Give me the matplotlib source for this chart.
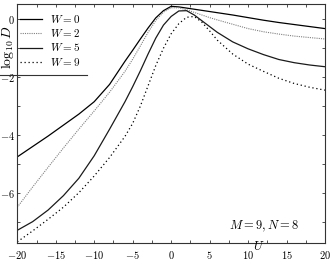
import matplotlib
matplotlib.use("Agg")
import matplotlib.pyplot as plt
from matplotlib.lines import Line2D
from matplotlib.ticker import MultipleLocator

plt.rcParams["mathtext.fontset"] = "cm"
plt.rcParams["axes.unicode_minus"] = False
plt.rcParams["axes.formatter.use_mathtext"] = True

U = [-20, -18, -16, -14, -12, -10, -8, -6, -5, -4, -3, -2, -1, 0, 1, 2, 3, 4, 5, 6, 8, 10, 12, 14, 16, 18, 20]

logd_w0 = [-4.76, -4.4, -4.04, -3.66, -3.28, -2.85, -2.25, -1.45, -1.07, -0.68, -0.3, 0.05, 0.3, 0.45, 0.43, 0.39,
           0.35, 0.31, 0.27, 0.23, 0.15, 0.06, -0.03, -0.11, -0.18, -0.25, -0.32]
logd_w2 = [-6.5, -5.8, -5.12, -4.45, -3.8, -3.17, -2.52, -1.8, -1.38, -0.92, -0.45, -0.04, 0.25, 0.4, 0.4, 0.33,
           0.24, 0.15, 0.06, -0.02, -0.17, -0.32, -0.43, -0.51, -0.58, -0.63, -0.68]
logd_w5 = [-7.3, -7.0, -6.6, -6.1, -5.5, -4.72, -3.8, -2.85, -2.33, -1.78, -1.2, -0.65, -0.2, 0.1, 0.29, 0.3,
           0.15, -0.05, -0.25, -0.45, -0.78, -1.02, -1.22, -1.39, -1.5, -1.58, -1.64]
logd_w9 = [-7.7, -7.32, -6.92, -6.5, -6.0, -5.42, -4.78, -4.05, -3.6, -3.0, -2.3, -1.6, -1.0, -0.5, -0.15, 0.07,
           0.1, -0.1, -0.4, -0.72, -1.2, -1.55, -1.8, -2.04, -2.22, -2.35, -2.45]

labels = [r"$\mathit{W{=}0}$", r"$\mathit{W{=}2}$", r"$\mathit{W{=}5}$", r"$\mathit{W{=}9}$"]

fig = plt.figure(figsize=(3.32, 2.61), dpi=100)
ax = fig.add_axes([0.0521, 0.0678, 0.9268, 0.9157])

ax.plot(U, logd_w0, color="black", lw=0.9, label=labels[0])
ax.plot(U, logd_w2, color="#808080", lw=0.8, ls=(0, (1, 1)), label=labels[1])
ax.plot(U, logd_w5, color="#1a1a1a", lw=0.9, label=labels[2])
ax.plot(U, logd_w9, color="black", lw=0.9, ls=(0, (1, 2.2)), label=labels[3])

ax.set_xlim(-20, 20)
ax.set_ylim(-7.75, 0.52)
ax.xaxis.set_major_locator(MultipleLocator(5))
ax.xaxis.set_minor_locator(MultipleLocator(2.5))
ax.yaxis.set_major_locator(MultipleLocator(2))
ax.yaxis.set_minor_locator(MultipleLocator(1))
ax.tick_params(which="both", direction="in", top=True, right=True, length=2.5, width=0.6, colors="#333333")
ax.tick_params(axis="x", labelsize=7.5, pad=4, labelcolor="black")
ax.tick_params(axis="y", labelsize=7.5, pad=1.5, labelcolor="black")
for lab in ax.get_xticklabels() + ax.get_yticklabels():
    lab.set_family("cmr10")
for sp in ax.spines.values():
    sp.set_linewidth(0.8)
    sp.set_color("#333333")

fig.text(8 / 332, 1 - 47 / 261, r"$\log_{10}D$", rotation=90, ha="center", va="center", fontsize=10)
fig.text(259 / 332, 1 - 247 / 261, r"$U$", ha="center", va="center", fontsize=9)
ax.text(12.1, -7.18, r"$M=9,N=8$", ha="center", va="center", fontsize=9)

ax.legend(loc="upper left", bbox_to_anchor=(20 / 332, 1 - 13 / 261), bbox_transform=fig.transFigure,
          frameon=False, fontsize=8, handlelength=2.0, handletextpad=0.7, labelspacing=0.2,
          borderpad=0, borderaxespad=0)
fig.add_artist(Line2D([0, 87 / 332], [1 - 74.7 / 261] * 2, color="#333333", lw=0.8))

fig.savefig("out.png", dpi=100)
